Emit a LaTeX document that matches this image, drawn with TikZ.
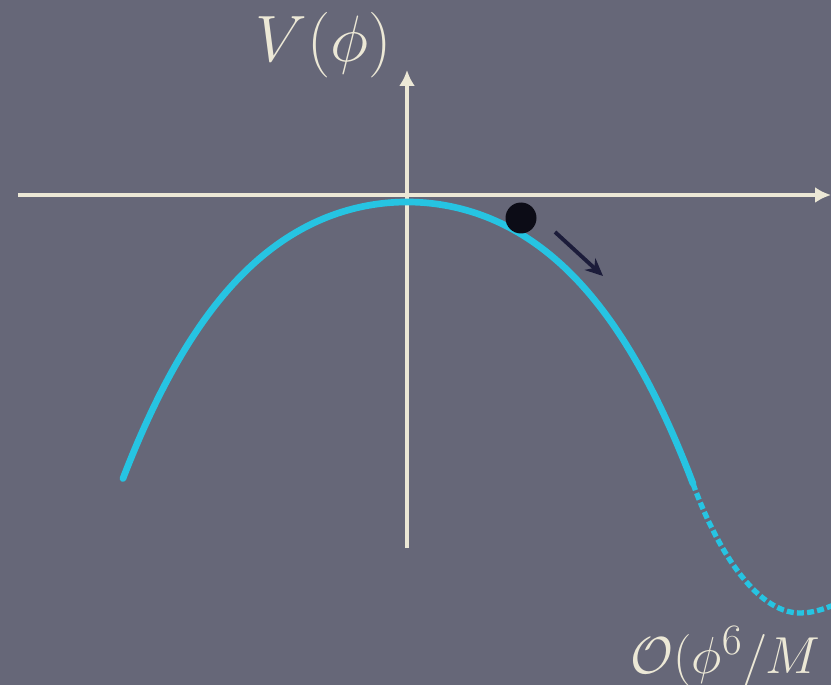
\documentclass[tikz,border=0pt]{standalone}
\usepackage{graphicx}
\usepackage{amsmath}
\usepackage{amssymb}
\usetikzlibrary{arrows.meta,positioning}
\definecolor{board}{RGB}{102,103,120}
\definecolor{chalk}{RGB}{236,232,214}
\definecolor{potential}{RGB}{38,196,226}
\definecolor{ballcol}{RGB}{12,12,22}
\definecolor{kick}{RGB}{28,28,58}

\begin{document}
\begin{tikzpicture}[
    x=0.02cm, y=-0.02cm,
    axis/.style={draw=chalk, line width=2.3pt, -{Latex[length=9pt,width=9pt]}},
    curve/.style={draw=potential, line width=3.8pt, line cap=round},
    chalktext/.style={text=chalk, inner sep=0pt, anchor=base west}
]
\fill[board] (0,0) rectangle (831,685);
\useasboundingbox (0,0) rectangle (831,685);
\clip (0,0) rectangle (831,685);

% axes
\coordinate (xstart) at (18,195);
\coordinate (xend) at (831,195);
\coordinate (ystart) at (407,548);
\coordinate (yend) at (407,70);
\draw[axis] (xstart) -- (xend);
\draw[axis] (ystart) -- (yend);

% potential, solid part and dotted continuation
\draw[curve] plot[domain=-2.84:2.86, samples=120, smooth]
    ({407+100*\x},{202+22.9*\x*\x+1.41*\x*\x*\x*\x});
\coordinate (join) at (693,483.6);
\coordinate (bottom) at (800,613);
\coordinate (away) at (852,596);
\draw[curve, line width=3pt, line cap=butt, dash pattern=on 4pt off 1.8pt]
    (join) .. controls (715,545) and (755,613) .. (bottom)
    .. controls (815,613) and (832,607) .. (away);

% ball rolling down
\node[circle, fill=ballcol, minimum size=0.62cm, inner sep=0pt] (ball) at (521,218) {};
\coordinate (kickfrom) at (555,232);
\coordinate (kickto) at (603,276);
\draw[kick, line width=2.2pt, -{Stealth[length=10pt,width=9pt]}] (kickfrom) -- (kickto);

% labels
\node[chalktext] (vlabel) at (255,62) {\scalebox{1.5}{\Huge $V(\phi)$}};
\node[chalktext] (olabel) at (630,673) {\scalebox{1.19}{\Huge $\mathcal{O}(\phi^6/M$}};
\end{tikzpicture}
\end{document}
